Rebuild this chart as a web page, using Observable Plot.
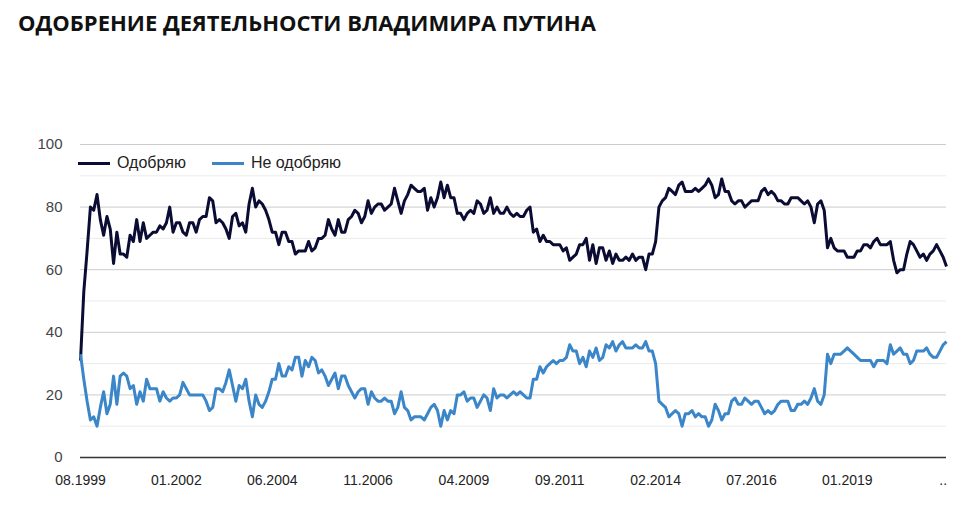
<!DOCTYPE html>
<html><head><meta charset="utf-8">
<script src="https://cdn.jsdelivr.net/npm/d3@7"></script>
<script src="https://cdn.jsdelivr.net/npm/@observablehq/plot@0.6"></script>
<style>
body{margin:0;background:#fff;font-family:"Liberation Sans",Arial,sans-serif;}
#wrap{position:relative;width:975px;height:513px;overflow:hidden;}
#title{position:absolute;left:18px;top:7px;font:700 22px "Open Sans",sans-serif;color:#111;letter-spacing:0;white-space:nowrap;}
#legend{position:absolute;left:78px;top:152px;height:22px;display:flex;align-items:center;font:16px "Liberation Sans",Arial,sans-serif;color:#222;}
#legend .sw{display:inline-block;width:32px;height:3px;margin-right:7px;}
#legend .item{display:flex;align-items:center;margin-right:26px;}
#chart{position:absolute;left:0;top:50px;}
</style></head>
<body><div id="wrap">
<div id="title">ОДОБРЕНИЕ ДЕЯТЕЛЬНОСТИ ВЛАДИМИРА ПУТИНА</div>
<div id="chart"></div>
<div id="legend"></div>
</div>
<script>
const seriesNames = ["Одобряю", "Не одобряю"];
const seriesColors = ["#0b0c33", "#3a86c8"];
const xLabels = ["08.1999","01.2002","06.2004","11.2006","04.2009","09.2011","02.2014","07.2016","01.2019",".."];
const xLabelStep = 29;
const yMajor = [0,20,40,60,80,100];
const yMinor = [10,30,50,70,90];

const approve = [
31,53,66,80,79,84,76,71,77,73,
62,72,65,65,64,71,69,76,69,75,
70,71,72,72,74,73,75,80,72,75,
75,72,71,75,75,72,76,77,77,83,
82,75,76,75,73,70,77,78,74,75,
72,81,86,80,82,81,79,76,72,72,
68,72,72,69,69,65,66,66,66,69,
66,67,70,70,71,76,73,71,76,72,
72,76,77,79,78,75,77,82,78,80,
81,81,79,80,81,86,82,78,82,84,
87,86,85,85,86,79,83,80,83,88,
83,87,83,83,78,78,76,78,79,78,
82,81,78,79,83,78,80,78,78,80,
78,77,78,77,77,79,80,72,73,69,
71,69,69,68,68,68,66,67,63,64,
65,68,68,70,63,68,62,67,67,63,
66,62,65,63,63,64,63,65,63,64,
64,60,65,65,69,80,82,83,86,85,
84,87,88,85,85,85,86,85,86,87,
89,87,83,84,89,85,85,82,81,82,
82,80,81,82,82,82,85,86,84,85,
84,82,82,81,81,83,83,83,82,81,
82,80,75,81,82,79,67,70,67,66,
66,66,64,64,64,66,66,68,68,67,
69,70,68,68,68,69,63,59,60,60,
65,69,68,66,64,65,63,65,66,68,
66,64,61];

const disapprove = [
33,25,18,12,13,10,16,21,14,17,
26,17,26,27,26,22,23,17,21,18,
25,22,22,22,18,21,19,18,19,19,
20,24,22,20,20,20,20,20,18,15,
16,22,22,21,24,28,23,18,23,22,
25,18,13,20,17,16,18,21,25,25,
30,26,26,29,28,32,32,26,31,29,
32,31,27,28,26,23,25,27,22,26,
26,23,21,19,21,22,22,17,21,19,
18,18,19,18,18,14,16,21,16,15,
12,13,13,13,12,14,16,17,15,10,
15,12,15,14,20,20,21,18,19,19,
16,18,20,19,15,22,19,20,20,19,
20,21,20,21,20,19,19,25,25,29,
27,29,30,31,30,31,31,32,36,34,
34,30,32,29,34,32,35,31,32,36,
35,37,34,36,37,35,35,35,36,35,
35,37,34,34,30,18,17,16,13,14,
15,14,10,14,14,15,13,14,13,13,
10,12,17,15,12,14,14,18,19,17,
17,19,18,17,18,18,16,14,15,14,
15,17,18,18,18,15,15,17,17,18,
17,19,22,18,17,20,33,30,33,33,
33,34,35,34,33,32,31,31,31,31,
29,31,31,31,30,36,33,34,35,33,
33,30,31,34,34,34,35,33,32,32,
34,36,37];

const N = approve.length;
const xTicks = xLabels.map((_, k) => k * xLabelStep);
const labelAt = new Map(xTicks.map((t, k) => [t, xLabels[k]]));

const rows = [];
approve.forEach((v, i) => rows.push({i, v, s: seriesNames[0]}));
disapprove.forEach((v, i) => rows.push({i, v, s: seriesNames[1]}));

const chart = Plot.plot({
  width: 975,
  height: 463,
  marginTop: 94,
  marginBottom: 56,
  marginLeft: 80,
  marginRight: 29,
  style: {fontFamily: "'Liberation Sans', Arial, sans-serif", background: "#fff"},
  x: {domain: [0, N - 1], axis: null},
  y: {domain: [0, 100], axis: null},
  color: {domain: seriesNames, range: seriesColors},
  marks: [
    Plot.ruleY(yMinor, {stroke: "#ebebeb", strokeWidth: 1}),
    Plot.ruleY(yMajor.filter(d => d > 0), {stroke: "#cccccc", strokeWidth: 1}),
    Plot.axisY(yMajor, {tickSize: 0, tickPadding: 18, fontSize: 15, fill: "#444", label: null, tickFormat: d => String(d)}),
    Plot.axisX(xTicks, {tickSize: 0, tickPadding: 18, fontSize: 14, fill: "#222", label: null, tickFormat: d => labelAt.get(d)}),
    Plot.line(rows, {x: "i", y: "v", z: "s", stroke: "s", strokeWidth: 3, strokeLinejoin: "round", strokeLinecap: "butt"}),
    Plot.ruleY([0], {stroke: "#333", strokeWidth: 1.5})
  ]
});
document.getElementById("chart").appendChild(chart);

const legend = document.getElementById("legend");
seriesNames.forEach((name, k) => {
  const item = document.createElement("span");
  item.className = "item";
  const sw = document.createElement("span");
  sw.className = "sw";
  sw.style.background = seriesColors[k];
  item.appendChild(sw);
  item.appendChild(document.createTextNode(name));
  legend.appendChild(item);
});
</script>
</body></html>
